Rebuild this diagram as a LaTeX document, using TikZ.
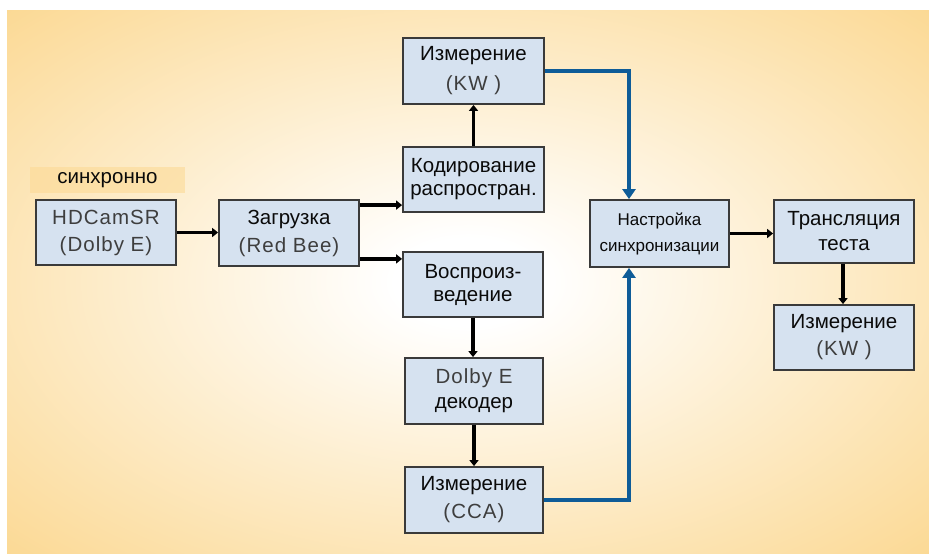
\documentclass[tikz,border=0pt]{standalone}
\usepackage{fontspec}
\setmainfont{Liberation Sans}
\newfontfamily\latspaced[LetterSpace=5]{Liberation Sans}
\usetikzlibrary{arrows.meta,calc}

\definecolor{bgor}{RGB}{251,214,140}
\definecolor{boxfill}{RGB}{214,226,240}
\definecolor{boxline}{RGB}{58,58,58}
\definecolor{latgray}{RGB}{62,62,62}
\definecolor{blueline}{RGB}{14,92,152}
\definecolor{synclab}{RGB}{252,218,150}
\definecolor{txt}{RGB}{10,10,10}

\pgfdeclareradialshading{bgshade}{\pgfpoint{0bp}{0bp}}{color(0bp)=(white); color(4bp)=(white); color(38bp)=(bgor); color(80bp)=(bgor)}

\newcommand\lat[1]{{\latspaced\color{latgray}#1}}

\tikzset{
  box/.style={draw=boxline, line width=1.8pt, fill=boxfill, inner sep=0pt,
    align=center, text=txt, font=\fontsize{20.5}{26}\selectfont},
  bw/.style={minimum width=#1},
  bh/.style={minimum height=#1},
  blk/.style={draw=black, line width=3.5pt, -{Triangle[length=6pt,width=9pt]}},
  blu/.style={draw=blueline, line width=4.5pt, -{Triangle[length=10pt,width=13pt]}},
}

\begin{document}
\begin{tikzpicture}[x=1pt,y=-1pt]
\useasboundingbox (0,0) rectangle (929,554);
\fill[white] (0,0) rectangle (929,554);
\shade[shading=bgshade] (7,10) rectangle (929,554);

% label
\node[fill=synclab, fill opacity=0.6, text opacity=1, minimum width=155pt, minimum height=26pt, inner sep=0pt,
  text=txt, font=\fontsize{20.5}{24}\selectfont] (synclabel) at (107.5,180) {синхронно};

% boxes
\node[box, bw=140pt, bh=65pt] (hdcam) at (106,232.5) {\lat{HDCamSR}\\[1pt]\lat{(Dolby E)}};
\node[box, bw=140pt, bh=66pt] (load) at (289,233) {Загрузка\\[2pt]\lat{(Red Bee)}};
\node[box, bw=141pt, bh=66pt] (kw1) at (473.5,71) {Измерение\\[4pt]\lat{(KW )}};
\node[box, bw=141pt, bh=65pt] (cod) at (473.5,179.5) {Кодирование\\[-3pt]распростран.};
\node[box, bw=140pt, bh=65pt] (play) at (473,284.5) {Воспроиз-\\[-3pt]ведение};
\node[box, bw=138pt, bh=66pt] (dolby) at (474,391) {\lat{Dolby E}\\[-1pt]декодер};
\node[box, bw=138pt, bh=66pt] (cca) at (474,500) {Измерение\\[2pt]\lat{(CCA)}};
\node[box, bw=139pt, bh=67pt, font=\fontsize{17}{26}\selectfont] (sync) at (659.5,233.5) {Настройка\\синхронизации};
\node[box, bw=140pt, bh=63pt] (trans) at (844,231.5) {Трансляция\\[-1pt]теста};
\node[box, bw=140pt, bh=65pt] (kw2) at (844,337.5) {Измерение\\[1pt]\lat{(KW )}};

% black connectors
\draw[blk] (hdcam.east) -- (hdcam.east -| load.west);
\draw[blk] ([yshift=-6pt]load.north east) -- ([yshift=-6pt]load.north east -| cod.west);
\draw[blk] ([yshift=8pt]load.south east) -- ([yshift=8pt]load.south east -| play.west);
\draw[blk] (cod.north) -- (cod.north |- kw1.south);
\draw[blk] (play.south) -- (play.south |- dolby.north);
\draw[blk] (dolby.south) -- (dolby.south |- cca.north);
\draw[blk] (sync.east) -- (sync.east -| trans.west);
\draw[blk] ([xshift=-1pt]trans.south) -- ([xshift=-1pt]trans.south |- kw2.north);

% blue connectors
\draw[blu] (kw1.east) -| ([xshift=-30.5pt]sync.north);
\draw[blu] (cca.east) -| ([xshift=-30.5pt]sync.south);
\end{tikzpicture}
\end{document}
